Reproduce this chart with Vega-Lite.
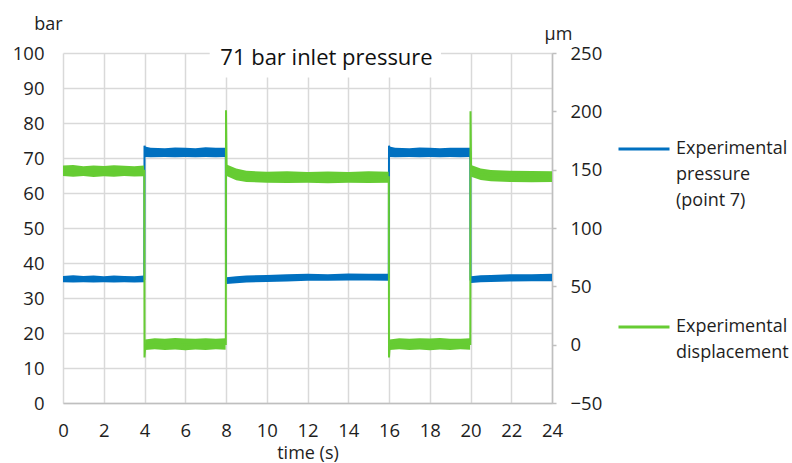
{
  "$schema": "https://vega.github.io/schema/vega-lite/v6.json",
  "width": 489,
  "height": 350,
  "autosize": {"type": "none"},
  "padding": {"left": 63, "top": 53, "right": 240, "bottom": 60},
  "background": "white",
  "config": {
    "font": "Open Sans",
    "view": {"stroke": null},
    "style": {"guide-label": {"lineHeight": 26}},
    "axis": {
      "labelFont": "Open Sans",
      "labelFontSize": 18.5,
      "labelColor": "#1e1e1e",
      "labelOverlap": false,
      "titleFont": "Open Sans",
      "titleFontSize": 18,
      "titleFontWeight": "normal",
      "titleColor": "#1e1e1e",
      "gridColor": "#d9d9d9",
      "gridWidth": 1.5,
      "domainColor": "#bfbfbf",
      "domainWidth": 1.5,
      "tickColor": "#bfbfbf",
      "tickWidth": 1.5
    },
    "legend": {
      "labelFont": "Open Sans",
      "labelFontSize": 18,
      "labelColor": "#1e1e1e",
      "labelLimit": 300,
      "symbolType": "stroke",
      "symbolSize": 2601,
      "symbolStrokeWidth": 3,
      "labelOffset": 5,
      "padding": 0
    }
  },
  "title": {
    "text": "71 bar inlet pressure",
    "frame": "group",
    "anchor": "middle",
    "baseline": "alphabetic",
    "offset": 0,
    "dx": 19,
    "dy": 72,
    "font": "Open Sans",
    "fontSize": 22,
    "fontWeight": "normal",
    "color": "#111111"
  },
  "datasets": {
    "pressureLine": [
      {"t": 0, "v": 35.4, "series": "Experimental pressure (point 7)"},
      {"t": 3.99, "v": 35.4, "series": "Experimental pressure (point 7)"},
      {"t": 4.0, "v": 73.5, "series": "Experimental pressure (point 7)"},
      {"t": 4.05, "v": 71.6, "series": "Experimental pressure (point 7)"},
      {"t": 7.99, "v": 71.6, "series": "Experimental pressure (point 7)"},
      {"t": 8.0, "v": 35.0, "series": "Experimental pressure (point 7)"},
      {"t": 10, "v": 35.6, "series": "Experimental pressure (point 7)"},
      {"t": 12, "v": 35.9, "series": "Experimental pressure (point 7)"},
      {"t": 15.99, "v": 35.9, "series": "Experimental pressure (point 7)"},
      {"t": 16.0, "v": 73.5, "series": "Experimental pressure (point 7)"},
      {"t": 16.05, "v": 71.6, "series": "Experimental pressure (point 7)"},
      {"t": 19.99, "v": 71.6, "series": "Experimental pressure (point 7)"},
      {"t": 20.0, "v": 35.3, "series": "Experimental pressure (point 7)"},
      {"t": 24, "v": 35.8, "series": "Experimental pressure (point 7)"}
    ],
    "pressureBand": [
      {"t": 0.0, "lo": 34.5, "hi": 36.3, "seg": 1},
      {"t": 0.5, "lo": 34.4, "hi": 36.5, "seg": 1},
      {"t": 1.0, "lo": 34.5, "hi": 36.3, "seg": 1},
      {"t": 1.5, "lo": 34.4, "hi": 36.4, "seg": 1},
      {"t": 2.0, "lo": 34.5, "hi": 36.2, "seg": 1},
      {"t": 2.5, "lo": 34.4, "hi": 36.4, "seg": 1},
      {"t": 3.0, "lo": 34.5, "hi": 36.3, "seg": 1},
      {"t": 3.5, "lo": 34.4, "hi": 36.2, "seg": 1},
      {"t": 3.98, "lo": 34.5, "hi": 36.4, "seg": 1},
      {"t": 4.02, "lo": 70.3, "hi": 73.3, "seg": 2},
      {"t": 4.3, "lo": 70.2, "hi": 72.9, "seg": 2},
      {"t": 5.0, "lo": 70.3, "hi": 72.8, "seg": 2},
      {"t": 5.5, "lo": 70.2, "hi": 73.0, "seg": 2},
      {"t": 6.0, "lo": 70.3, "hi": 72.9, "seg": 2},
      {"t": 6.5, "lo": 70.2, "hi": 72.8, "seg": 2},
      {"t": 7.0, "lo": 70.3, "hi": 73.1, "seg": 2},
      {"t": 7.5, "lo": 70.2, "hi": 72.9, "seg": 2},
      {"t": 7.98, "lo": 70.3, "hi": 72.9, "seg": 2},
      {"t": 8.02, "lo": 34.0, "hi": 35.9, "seg": 3},
      {"t": 8.5, "lo": 34.2, "hi": 36.2, "seg": 3},
      {"t": 9.0, "lo": 34.4, "hi": 36.4, "seg": 3},
      {"t": 10.0, "lo": 34.6, "hi": 36.6, "seg": 3},
      {"t": 11.0, "lo": 34.7, "hi": 36.8, "seg": 3},
      {"t": 12.0, "lo": 34.9, "hi": 36.9, "seg": 3},
      {"t": 13.0, "lo": 34.9, "hi": 36.8, "seg": 3},
      {"t": 14.0, "lo": 35.0, "hi": 37.0, "seg": 3},
      {"t": 15.0, "lo": 35.0, "hi": 36.9, "seg": 3},
      {"t": 15.98, "lo": 34.9, "hi": 36.9, "seg": 3},
      {"t": 16.02, "lo": 70.3, "hi": 73.3, "seg": 4},
      {"t": 16.3, "lo": 70.2, "hi": 72.9, "seg": 4},
      {"t": 17.0, "lo": 70.3, "hi": 72.8, "seg": 4},
      {"t": 17.5, "lo": 70.2, "hi": 73.0, "seg": 4},
      {"t": 18.0, "lo": 70.3, "hi": 72.9, "seg": 4},
      {"t": 18.5, "lo": 70.2, "hi": 72.8, "seg": 4},
      {"t": 19.0, "lo": 70.3, "hi": 72.9, "seg": 4},
      {"t": 19.5, "lo": 70.2, "hi": 72.9, "seg": 4},
      {"t": 19.98, "lo": 70.3, "hi": 72.9, "seg": 4},
      {"t": 20.02, "lo": 34.3, "hi": 36.2, "seg": 5},
      {"t": 20.5, "lo": 34.5, "hi": 36.5, "seg": 5},
      {"t": 21.0, "lo": 34.6, "hi": 36.6, "seg": 5},
      {"t": 22.0, "lo": 34.7, "hi": 36.8, "seg": 5},
      {"t": 23.0, "lo": 34.8, "hi": 36.8, "seg": 5},
      {"t": 24.0, "lo": 34.8, "hi": 36.9, "seg": 5}
    ],
    "displacementLine": [
      {"t": 0, "v": 149, "series": "Experimental displacement"},
      {"t": 3.99, "v": 149, "series": "Experimental displacement"},
      {"t": 4.0, "v": -11, "series": "Experimental displacement"},
      {"t": 4.04, "v": 0, "series": "Experimental displacement"},
      {"t": 7.99, "v": 0.5, "series": "Experimental displacement"},
      {"t": 8.0, "v": 201, "series": "Experimental displacement"},
      {"t": 8.03, "v": 150, "series": "Experimental displacement"},
      {"t": 8.5, "v": 146, "series": "Experimental displacement"},
      {"t": 9.0, "v": 144, "series": "Experimental displacement"},
      {"t": 15.99, "v": 143.5, "series": "Experimental displacement"},
      {"t": 16.0, "v": -11, "series": "Experimental displacement"},
      {"t": 16.04, "v": 0, "series": "Experimental displacement"},
      {"t": 19.99, "v": 0.5, "series": "Experimental displacement"},
      {"t": 20.0, "v": 200, "series": "Experimental displacement"},
      {"t": 20.03, "v": 149, "series": "Experimental displacement"},
      {"t": 20.5, "v": 146, "series": "Experimental displacement"},
      {"t": 21.0, "v": 145, "series": "Experimental displacement"},
      {"t": 24.0, "v": 144, "series": "Experimental displacement"}
    ],
    "displacementBand": [
      {"t": 0.0, "lo": 144.5, "hi": 153.5, "seg": 1},
      {"t": 0.5, "lo": 144.0, "hi": 154.0, "seg": 1},
      {"t": 1.0, "lo": 144.5, "hi": 153.0, "seg": 1},
      {"t": 1.5, "lo": 143.8, "hi": 153.6, "seg": 1},
      {"t": 2.0, "lo": 144.4, "hi": 153.2, "seg": 1},
      {"t": 2.5, "lo": 144.0, "hi": 153.8, "seg": 1},
      {"t": 3.0, "lo": 144.6, "hi": 153.4, "seg": 1},
      {"t": 3.5, "lo": 144.1, "hi": 153.0, "seg": 1},
      {"t": 3.98, "lo": 144.4, "hi": 153.5, "seg": 1},
      {"t": 4.03, "lo": -4.5, "hi": 4.5, "seg": 2},
      {"t": 4.5, "lo": -4.0, "hi": 5.5, "seg": 2},
      {"t": 5.0, "lo": -4.6, "hi": 5.0, "seg": 2},
      {"t": 5.5, "lo": -4.2, "hi": 5.8, "seg": 2},
      {"t": 6.0, "lo": -4.8, "hi": 5.2, "seg": 2},
      {"t": 6.5, "lo": -4.1, "hi": 5.0, "seg": 2},
      {"t": 7.0, "lo": -4.5, "hi": 5.6, "seg": 2},
      {"t": 7.5, "lo": -4.0, "hi": 5.1, "seg": 2},
      {"t": 7.98, "lo": -4.4, "hi": 5.4, "seg": 2},
      {"t": 8.03, "lo": 144.5, "hi": 154.5, "seg": 3},
      {"t": 8.5, "lo": 141.0, "hi": 151.0, "seg": 3},
      {"t": 9.0, "lo": 139.5, "hi": 149.0, "seg": 3},
      {"t": 10.0, "lo": 138.8, "hi": 148.3, "seg": 3},
      {"t": 11.0, "lo": 138.5, "hi": 148.6, "seg": 3},
      {"t": 12.0, "lo": 138.8, "hi": 148.0, "seg": 3},
      {"t": 13.0, "lo": 138.4, "hi": 148.4, "seg": 3},
      {"t": 14.0, "lo": 138.7, "hi": 148.1, "seg": 3},
      {"t": 15.0, "lo": 138.5, "hi": 148.6, "seg": 3},
      {"t": 15.98, "lo": 138.8, "hi": 148.2, "seg": 3},
      {"t": 16.03, "lo": -4.5, "hi": 4.5, "seg": 4},
      {"t": 16.5, "lo": -4.0, "hi": 5.5, "seg": 4},
      {"t": 17.0, "lo": -4.6, "hi": 5.0, "seg": 4},
      {"t": 17.5, "lo": -4.2, "hi": 5.4, "seg": 4},
      {"t": 18.0, "lo": -4.8, "hi": 5.2, "seg": 4},
      {"t": 18.5, "lo": -4.1, "hi": 5.8, "seg": 4},
      {"t": 19.0, "lo": -4.5, "hi": 5.0, "seg": 4},
      {"t": 19.5, "lo": -4.0, "hi": 5.1, "seg": 4},
      {"t": 19.98, "lo": -4.4, "hi": 5.4, "seg": 4},
      {"t": 20.03, "lo": 144.0, "hi": 154.0, "seg": 5},
      {"t": 20.5, "lo": 141.2, "hi": 151.0, "seg": 5},
      {"t": 21.0, "lo": 140.0, "hi": 149.8, "seg": 5},
      {"t": 22.0, "lo": 139.4, "hi": 149.0, "seg": 5},
      {"t": 23.0, "lo": 139.2, "hi": 148.8, "seg": 5},
      {"t": 24.0, "lo": 139.4, "hi": 148.6, "seg": 5}
    ],
    "titleBox": [
      {"t0": 7.2, "t1": 18.55, "y0": 93, "y1": 101}
    ]
  },
  "layer": [
    {
      "layer": [
        {
          "data": {"name": "pressureBand"},
          "mark": {"type": "area", "color": "#0070c0", "opacity": 1},
          "encoding": {
            "x": {
              "field": "t", "type": "quantitative",
              "scale": {"domain": [0, 24], "nice": false},
              "axis": {
                "title": "time (s)",
                "values": [0, 2, 4, 6, 8, 10, 12, 14, 16, 18, 20, 22, 24],
                "grid": true,
                "ticks": false,
                "domain": true,
                "labelPadding": 18,
                "titlePadding": 5,
                "labelFlush": false
              }
            },
            "y": {
              "field": "lo", "type": "quantitative",
              "scale": {"domain": [0, 100], "nice": false, "zero": false},
              "axis": {
                "title": "bar",
                "titleAngle": 0,
                "titleAlign": "center",
                "titleBaseline": "alphabetic",
                "titleX": -15,
                "titleY": -24,
                "values": [0, 10, 20, 30, 40, 50, 60, 70, 80, 90, 100],
                "tickCount": 11,
                "labelOverlap": false,
                "grid": true,
                "ticks": false,
                "domain": false,
                "labelPadding": 19,
                "labelFlush": false
              }
            },
            "y2": {"field": "hi"},
            "detail": {"field": "seg"}
          }
        },
        {
          "data": {"name": "titleBox"},
          "mark": {"type": "rect", "fill": "white", "stroke": null},
          "encoding": {
            "x": {"field": "t0", "type": "quantitative"},
            "x2": {"field": "t1"},
            "y": {"field": "y0", "type": "quantitative"},
            "y2": {"field": "y1"}
          }
        },
        {
          "data": {"name": "pressureLine"},
          "mark": {"type": "line", "strokeWidth": 2, "interpolate": "linear"},
          "encoding": {
            "x": {"field": "t", "type": "quantitative"},
            "y": {"field": "v", "type": "quantitative"},
            "color": {
              "field": "series", "type": "nominal",
              "scale": {"domain": ["Experimental pressure (point 7)"], "range": ["#0070c0"]},
              "legend": {
                "title": null,
                "orient": "none",
                "legendX": 554,
                "legendY": 69,
                "labelBaseline": "middle",
                "labelExpr": "['Experimental', 'pressure', '(point 7)']"
              }
            }
          }
        }
      ]
    },
    {
      "layer": [
        {
          "data": {"name": "displacementBand"},
          "mark": {"type": "area", "color": "#66cc33", "opacity": 1},
          "encoding": {
            "x": {"field": "t", "type": "quantitative"},
            "y": {
              "field": "lo", "type": "quantitative",
              "scale": {"domain": [-50, 250], "nice": false, "zero": false},
              "axis": {
                "orient": "right",
                "title": "µm",
                "titleAngle": 0,
                "titleAlign": "center",
                "titleBaseline": "alphabetic",
                "titleX": 6,
                "titleY": -14,
                "values": [-50, 0, 50, 100, 150, 200, 250],
                "grid": false,
                "ticks": true,
                "tickSize": 4,
                "domain": true,
                "labelPadding": 14,
                "labelFlush": false
              }
            },
            "y2": {"field": "hi"},
            "detail": {"field": "seg"}
          }
        },
        {
          "data": {"name": "displacementLine"},
          "mark": {"type": "line", "strokeWidth": 2, "interpolate": "linear"},
          "encoding": {
            "x": {"field": "t", "type": "quantitative"},
            "y": {"field": "v", "type": "quantitative"},
            "color": {
              "field": "series", "type": "nominal",
              "scale": {"domain": ["Experimental displacement"], "range": ["#66cc33"]},
              "legend": {
                "title": null,
                "orient": "none",
                "legendX": 554,
                "legendY": 247,
                "labelBaseline": "middle",
                "labelExpr": "['Experimental', 'displacement']"
              }
            }
          }
        }
      ]
    }
  ],
  "resolve": {"scale": {"y": "independent", "color": "independent"}}
}
